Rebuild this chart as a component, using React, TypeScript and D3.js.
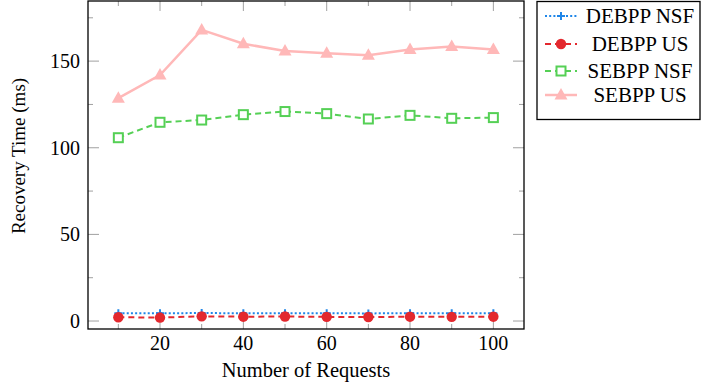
import { useRef, useEffect } from "react";
import * as d3 from "d3";

const requests = [10, 20, 30, 40, 50, 60, 70, 80, 90, 100];
const debppNsf = [4.5, 4.5, 4.6, 4.5, 4.5, 4.5, 4.4, 4.5, 4.5, 4.5];
const debppUs = [2.2, 2.0, 2.7, 2.5, 2.6, 2.4, 2.3, 2.5, 2.4, 2.5];
const sebppNsf = [105.8, 114.7, 116.0, 119.1, 120.9, 119.7, 116.6, 118.7, 117.0, 117.4];
const sebppUs = [128.6, 142.0, 168.0, 160.0, 155.9, 154.5, 153.4, 156.7, 158.4, 156.7];

const xTicks = [20, 40, 60, 80, 100];
const xMinor = [10, 30, 50, 70, 90];
const yTicks = [0, 50, 100, 150];
const yMinor = [25, 75, 125, 175];

const series = [
  { name: "DEBPP NSF", values: debppNsf, color: "#1f86e8", dash: "2 2.2", width: 2, marker: "plus" },
  { name: "DEBPP US", values: debppUs, color: "#e3282e", dash: "6 4", width: 2, marker: "circle" },
  { name: "SEBPP NSF", values: sebppNsf, color: "#55d055", dash: "6 4", width: 2, marker: "square" },
  { name: "SEBPP US", values: sebppUs, color: "#ffb8b8", dash: null, width: 2.5, marker: "triangle" },
];

const FONT = "'Liberation Serif', 'Times New Roman', serif";

const drawMarker = (g, type, color) => {
  if (type === "circle") {
    g.append("circle").attr("r", 5.2).attr("fill", color);
  } else if (type === "square") {
    g.append("rect")
      .attr("x", -4.5).attr("y", -4.5).attr("width", 9).attr("height", 9)
      .attr("fill", "white").attr("stroke", color).attr("stroke-width", 2);
  } else if (type === "triangle") {
    g.append("path").attr("d", "M0,-7 L6.5,4.5 L-6.5,4.5 Z").attr("fill", color);
  } else {
    g.append("path").attr("d", "M-4,0 H4 M0,-4 V4")
      .attr("stroke", color).attr("stroke-width", 2);
  }
};

const App = () => {
  const svgRef = useRef();

  useEffect(() => {
    const svg = d3.select(svgRef.current);
    svg.selectAll("*").remove();

    const left = 88, right = 524, top = 1, bottom = 329;

    const x = d3.scaleLinear().domain([2.72, 107.35]).range([left, right]);
    const y = d3.scaleLinear().domain([-4.6, 184.7]).range([bottom, top]);

    // ticks (gray, inward, mirrored)
    const ticks = svg.append("g").attr("stroke", "#a0a0a0").attr("stroke-width", 1);
    const tick = (x1, y1, x2, y2) =>
      ticks.append("line").attr("x1", x1).attr("y1", y1).attr("x2", x2).attr("y2", y2);
    xTicks.forEach((t) => {
      tick(x(t), bottom, x(t), bottom - 10);
      tick(x(t), top, x(t), top + 10);
    });
    xMinor.forEach((t) => {
      tick(x(t), bottom, x(t), bottom - 5);
      tick(x(t), top, x(t), top + 5);
    });
    yTicks.forEach((t) => {
      tick(left, y(t), left + 11, y(t));
      tick(right, y(t), right - 11, y(t));
    });
    yMinor.forEach((t) => {
      tick(left, y(t), left + 5, y(t));
      tick(right, y(t), right - 5, y(t));
    });

    // series
    const line = d3.line().x((d, i) => x(requests[i])).y((d) => y(d));
    series.forEach((s) => {
      svg.append("path")
        .datum(s.values)
        .attr("d", line)
        .attr("fill", "none")
        .attr("stroke", s.color)
        .attr("stroke-width", s.width)
        .attr("stroke-dasharray", s.dash);
      s.values.forEach((v, i) => {
        const g = svg.append("g").attr("transform", `translate(${x(requests[i])},${y(v)})`);
        drawMarker(g, s.marker, s.color);
      });
    });

    // frame
    svg.append("rect")
      .attr("x", left).attr("y", top)
      .attr("width", right - left).attr("height", bottom - top)
      .attr("fill", "none").attr("stroke", "black").attr("stroke-width", 1.3);

    // tick labels
    xTicks.forEach((t) => {
      svg.append("text")
        .attr("x", x(t)).attr("y", 350)
        .attr("text-anchor", "middle")
        .attr("font-family", FONT).attr("font-size", 20)
        .text(t);
    });
    yTicks.forEach((t) => {
      svg.append("text")
        .attr("x", 80).attr("y", y(t)).attr("dy", "0.34em")
        .attr("text-anchor", "end")
        .attr("font-family", FONT).attr("font-size", 20)
        .text(t);
    });

    // axis labels
    svg.append("text")
      .attr("x", (left + right) / 2).attr("y", 377)
      .attr("text-anchor", "middle")
      .attr("font-family", FONT).attr("font-size", 20.5)
      .text("Number of Requests");
    svg.append("text")
      .attr("transform", `translate(25,156) rotate(-90)`)
      .attr("text-anchor", "middle")
      .attr("font-family", FONT).attr("font-size", 19)
      .text("Recovery Time (ms)");

    // legend
    const lg = svg.append("g");
    lg.append("rect")
      .attr("x", 537).attr("y", 1.5).attr("width", 163).attr("height", 118)
      .attr("fill", "white").attr("stroke", "black").attr("stroke-width", 1.3);
    const rowY = [16, 44, 71, 95];
    series.forEach((s, i) => {
      const ry = rowY[i];
      lg.append("line")
        .attr("x1", 545).attr("x2", 577).attr("y1", ry).attr("y2", ry)
        .attr("stroke", s.color).attr("stroke-width", s.width)
        .attr("stroke-dasharray", s.dash);
      drawMarker(lg.append("g").attr("transform", `translate(561,${ry})`), s.marker, s.color);
      lg.append("text")
        .attr("x", 640).attr("y", ry).attr("dy", "0.35em")
        .attr("text-anchor", "middle")
        .attr("font-family", FONT).attr("font-size", 21)
        .text(s.name);
    });
  }, []);

  return (
    <svg
      ref={svgRef}
      width={701}
      height={389}
      style={{ position: "fixed", left: 0, top: 0, background: "white" }}
    ></svg>
  );
};

export default App;
